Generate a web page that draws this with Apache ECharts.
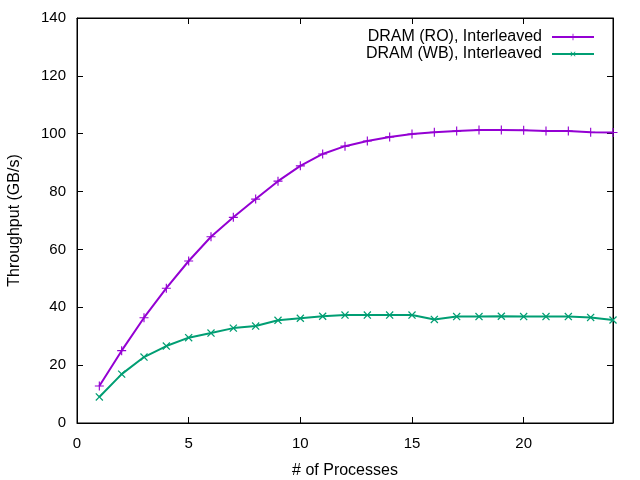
<!DOCTYPE html>
<html>
<head>
<meta charset="utf-8">
<script src="https://cdn.jsdelivr.net/npm/echarts@6/dist/echarts.min.js"></script>
<style>
  html, body { margin: 0; padding: 0; background: #fff; }
  #chart { width: 640px; height: 480px; }
</style>
</head>
<body>
<div id="chart"></div>
<script>
// number of processes
var procs = [1, 2, 3, 4, 5, 6, 7, 8, 9, 10, 11, 12, 13, 14, 15, 16, 17, 18, 19, 20, 21, 22, 23, 24];
// throughput, GB/s
var roValues = [12.8, 25.0, 36.4, 46.6, 56.0, 64.4, 71.1, 77.4, 83.6, 88.9, 93.0, 95.7,
  97.5, 98.9, 99.9, 100.5, 100.9, 101.3, 101.3, 101.2, 100.9, 100.9, 100.5, 100.4];
var wbValues = [9.0, 16.9, 22.8, 26.6, 29.5, 31.1, 32.8, 33.5, 35.5, 36.2, 36.9, 37.3,
  37.3, 37.3, 37.3, 35.8, 36.8, 36.8, 36.9, 36.8, 36.8, 36.8, 36.5, 35.6];

var FONT = 'Liberation Sans';

function pairs(ys) {
  var out = [];
  for (var i = 0; i < procs.length; i++) out.push([procs[i], ys[i]]);
  return out;
}

// plus marker as a filled shape, cross = plus rotated 45
var plusPath = 'path://M-1,-8L1,-8L1,-1L8,-1L8,1L1,1L1,8L-1,8L-1,1L-8,1L-8,-1L-1,-1Z';

var chart = echarts.init(document.getElementById('chart'));

// gnuplot style ticks, pointing into the plot
function ticks() {
  return { show: true, inside: true, length: 6, lineStyle: { color: '#000', width: 1 } };
}
function axisLine() {
  return { show: true, onZero: false, lineStyle: { color: '#000', width: 1 } };
}

var option = {
  animation: false,
  textStyle: { fontFamily: FONT },
  grid: {
    left: 77, right: 27, top: 18, bottom: 57,
    containLabel: false, outerBoundsMode: 'none',
    show: true, borderColor: '#000', borderWidth: 1
  },
  legend: {
    right: 40,
    top: 24,
    orient: 'vertical',
    align: 'right',
    itemWidth: 42,
    itemHeight: 8,
    itemGap: 1,
    textStyle: { fontFamily: FONT, fontSize: 16, color: '#000', padding: [0, 5, 0, 0] },
    data: ['DRAM (RO), Interleaved', 'DRAM (WB), Interleaved']
  },
  xAxis: [{
    type: 'value', min: 0, max: 24, interval: 5,
    name: '# of Processes', nameLocation: 'middle', nameGap: 40,
    nameTextStyle: { fontFamily: FONT, fontSize: 16, color: '#000' },
    axisLine: axisLine(), axisTick: ticks(), splitLine: { show: false },
    axisLabel: { fontFamily: FONT, fontSize: 15, color: '#000', margin: 13, showMaxLabel: false }
  }, {
    type: 'value', min: 0, max: 24, interval: 5, position: 'top',
    axisLine: axisLine(), axisTick: ticks(), splitLine: { show: false },
    axisLabel: { show: false }
  }],
  yAxis: [{
    type: 'value', min: 0, max: 140, interval: 20,
    name: 'Throughput (GB/s)', nameLocation: 'middle', nameGap: 54,
    nameTextStyle: { fontFamily: FONT, fontSize: 16, color: '#000' },
    axisLine: axisLine(), axisTick: ticks(), splitLine: { show: false },
    axisLabel: { fontFamily: FONT, fontSize: 15, color: '#000', margin: 11 }
  }, {
    type: 'value', min: 0, max: 140, interval: 20, position: 'right',
    axisLine: axisLine(), axisTick: ticks(), splitLine: { show: false },
    axisLabel: { show: false }
  }],
  series: [{
    name: 'DRAM (RO), Interleaved',
    type: 'line',
    data: pairs(roValues),
    color: '#9400d3',
    lineStyle: { width: 2 },
    symbol: plusPath,
    symbolSize: 9,
    itemStyle: { color: '#9400d3', borderWidth: 0 }
  }, {
    name: 'DRAM (WB), Interleaved',
    type: 'line',
    data: pairs(wbValues),
    color: '#009e73',
    lineStyle: { width: 2 },
    symbol: plusPath,
    symbolRotate: 45,
    symbolSize: 10,
    itemStyle: { color: '#009e73', borderWidth: 0 }
  }]
};

chart.setOption(option);
</script>
</body>
</html>
